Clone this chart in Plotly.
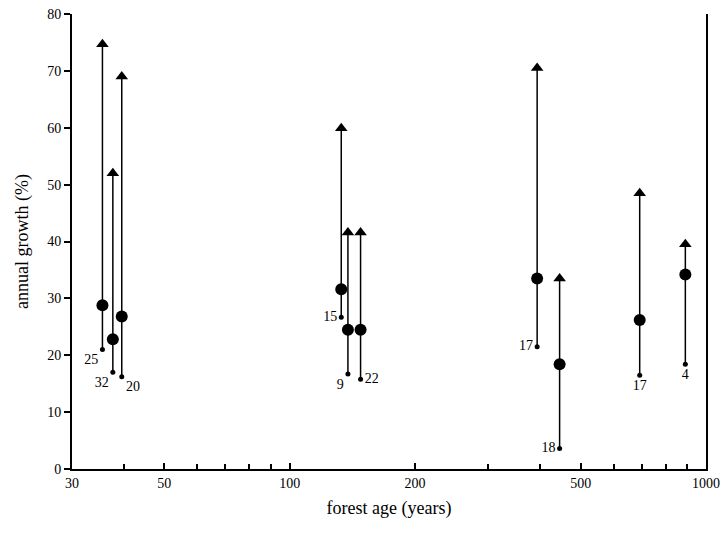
import plotly.graph_objects as go

ages = [35.5, 37.6, 39.5, 133, 138, 148, 393, 445, 693, 892]
growth_min = [21, 17, 16.2, 26.7, 16.7, 15.8, 21.5, 3.6, 16.5, 18.4]
growth_mean = [28.8, 22.8, 26.8, 31.6, 24.5, 24.5, 33.5, 18.4, 26.2, 34.2]
growth_max = [74.7, 52, 69, 59.9, 41.6, 41.6, 70.5, 33.5, 48.5, 39.5]
n_labels = ["25", "32", "20", "15", "9", "22", "17", "18", "17", "4"]
label_pos = ["bottom left", "bottom left", "bottom right", "middle left", "bottom left",
             "middle right", "middle left", "middle left", "bottom center", "bottom center"]

x_ticks = [30, 50, 100, 200, 500, 1000]
x_minor = [40, 60, 70, 80, 90, 300, 400, 600, 700, 800, 900]
y_ticks = [0, 10, 20, 30, 40, 50, 60, 70, 80]

fig = go.Figure()

lx, ly = [], []
for a, lo, hi in zip(ages, growth_min, growth_max):
    lx += [a, a, None]
    ly += [lo, hi, None]
fig.add_trace(go.Scatter(x=lx, y=ly, mode="lines", line=dict(color="black", width=1.5),
                         hoverinfo="skip", showlegend=False))
fig.add_trace(go.Scatter(x=ages, y=growth_max, mode="markers",
                         marker=dict(symbol="triangle-up", size=11, color="black"),
                         showlegend=False))
fig.add_trace(go.Scatter(x=ages, y=growth_mean, mode="markers",
                         marker=dict(symbol="circle", size=12, color="black"),
                         showlegend=False))
fig.add_trace(go.Scatter(x=ages, y=growth_min, mode="markers+text",
                         marker=dict(symbol="circle", size=5, color="black"),
                         text=n_labels, textposition=label_pos,
                         textfont=dict(family="Liberation Serif", size=14, color="black"),
                         showlegend=False))

fig.update_layout(
    width=724, height=535,
    margin=dict(l=72, r=18, t=14, b=66),
    plot_bgcolor="white", paper_bgcolor="white",
    font=dict(family="Liberation Serif", size=14, color="black"),
    xaxis=dict(type="log", range=[1.4771, 3.0], tickvals=x_ticks, ticktext=[str(v) for v in x_ticks],
               ticks="inside", ticklen=6, tickwidth=1.5, tickcolor="black",
               minor=dict(tickvals=x_minor, ticks="inside", ticklen=5, tickwidth=1.5, tickcolor="black"),
               showline=True, linecolor="black", linewidth=2, showgrid=False, zeroline=False,
               ticklabeloverflow="allow", automargin=False,
               title=dict(text="forest age (years)", font=dict(size=18), standoff=12),
               tickfont=dict(size=14)),
    yaxis=dict(range=[0, 80], tickvals=y_ticks, ticks="outside", ticklen=6, tickwidth=1.5,
               tickcolor="black", showline=True, linecolor="black", linewidth=2, mirror=True,
               showgrid=False, zeroline=False, ticklabeloverflow="allow", automargin=False,
               title=dict(text="annual growth (%)", font=dict(size=18), standoff=14),
               tickfont=dict(size=14)),
)

fig.write_html("out.html", config={"displayModeBar": False},
               post_script="document.body.style.margin='0px';document.body.style.overflow='hidden';")
